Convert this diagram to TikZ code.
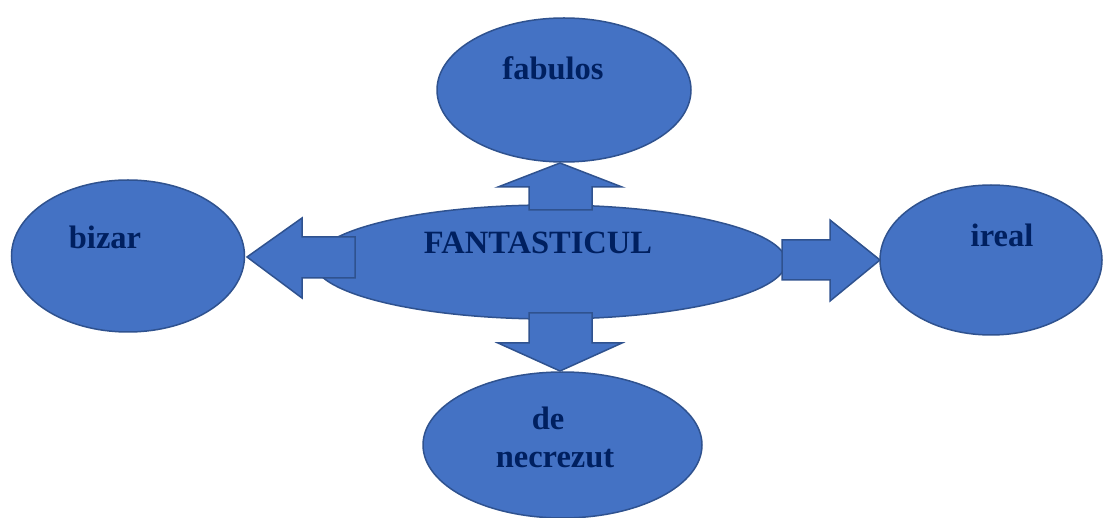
\documentclass[tikz,border=0pt]{standalone}
\usepackage{fontspec}
\setmainfont{Liberation Serif}
\usetikzlibrary{shapes.geometric}
\definecolor{fillblue}{HTML}{4472C4}
\definecolor{lineblue}{HTML}{2F528F}
\definecolor{txtblue}{HTML}{002060}
\begin{document}
\begin{tikzpicture}[x=1pt,y=-1pt,
  bubble/.style={ellipse, draw=lineblue, fill=fillblue, line width=1.5pt, inner sep=0pt},
  blockarrow/.style={draw=lineblue, fill=fillblue, line width=1.5pt, line join=miter},
  lbl/.style={text=txtblue, font=\fontsize{32.5}{36}\selectfont\bfseries, anchor=base, inner sep=0pt}]
\useasboundingbox (0,0) rectangle (1103,518);
% ellipses
\node[bubble, minimum width=472pt, minimum height=114pt] (center) at (550,262) {};
\node[bubble, minimum width=254pt, minimum height=144pt] (top) at (564,90) {};
\node[bubble, minimum width=233pt, minimum height=152pt] (left) at (128,256) {};
\node[bubble, minimum width=222pt, minimum height=150pt] (right) at (991,260) {};
\node[bubble, minimum width=279pt, minimum height=146pt] (bottom) at (562.5,445) {};
% block arrows
\draw[blockarrow] (529,210) -- (529,187) -- (498,187) -- (560,163) -- (622,187) -- (592,187) -- (592,210) -- cycle;
\draw[blockarrow] (529,313) -- (529,343) -- (498,343) -- (560,371) -- (622,343) -- (592,343) -- (592,313) -- cycle;
\draw[blockarrow] (355,237) -- (302,237) -- (302,218) -- (247,257) -- (302,298) -- (302,278) -- (355,278) -- cycle;
\draw[blockarrow] (782,240) -- (830,240) -- (830,220) -- (880,260) -- (830,301) -- (830,280) -- (782,280) -- cycle;
% labels
\node[lbl] (tcenter) at (538,254) {FANTASTICUL};
\node[lbl] (ttop) at (553,80) {fabulos};
\node[lbl] (tleft) at (105,249) {bizar};
\node[lbl] (tright) at (1002,247) {ireal};
\node[lbl] (tb1) at (548,429) {de};
\node[lbl] (tb2) at (555,467) {necrezut};
\end{tikzpicture}
\end{document}
